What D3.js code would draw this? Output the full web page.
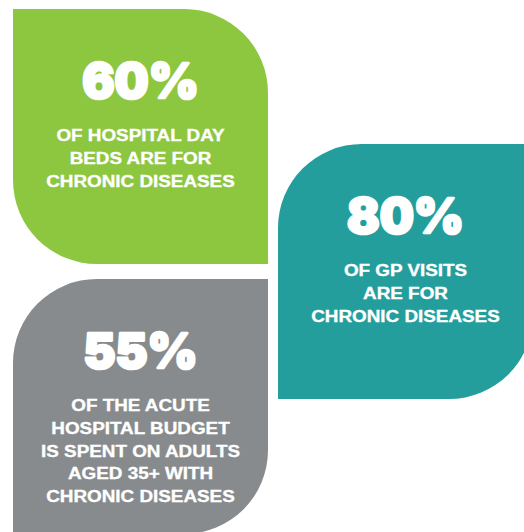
<!DOCTYPE html>
<html lang="en">
<head>
<meta charset="UTF-8">
<title>Chronic diseases infographic</title>
<script src="https://d3js.org/d3.v7.min.js"></script>
<style>
    body { margin: 0; background: #fff; }
    .big { font-family: Inter, "Open Sans", sans-serif; font-weight: 900; }
    .cap { font-family: "Liberation Sans", Arial, sans-serif; font-weight: bold; }
</style>
</head>
<body>
<div id="chart"></div>
<script>
    // panel data
    var stats = ["60%", "80%", "55%"];
    var captions = [
        ["OF HOSPITAL DAY", "BEDS ARE FOR", "CHRONIC DISEASES"],
        ["OF GP VISITS", "ARE FOR", "CHRONIC DISEASES"],
        ["OF THE ACUTE", "HOSPITAL BUDGET", "IS SPENT ON ADULTS", "AGED 35+ WITH", "CHRONIC DISEASES"]
    ];
    var colors = ["#8dc63f", "#239e9c", "#888b8d"];
    var columns = [0, 1, 0];
    var roundCorners = [["tr", "bl"], ["tl", "br"], ["tl", "br"]];

    var width = 524, height = 532;
    var size = 255, radius = 84;

    var svg = d3.select("#chart").append("svg")
        .attr("width", width)
        .attr("height", height);

    // column -> left edge, panel order -> top edge (each panel steps down half a panel)
    var x = d3.scaleLinear().domain([0, 1]).range([13, 278]);
    var y = d3.scaleLinear().domain([0, 2]).range([9, 279]);

    function leaf(x0, y0, s, r, corners) {
        var p = d3.path();
        var x1 = x0 + s, y1 = y0 + s;
        var has = function (c) { return corners.indexOf(c) >= 0; };
        p.moveTo(x0 + (has("tl") ? r : 0), y0);
        if (has("tr")) p.arcTo(x1, y0, x1, y1, r); else p.lineTo(x1, y0);
        if (has("br")) p.arcTo(x1, y1, x0, y1, r); else p.lineTo(x1, y1);
        if (has("bl")) p.arcTo(x0, y1, x0, y0, r); else p.lineTo(x0, y1);
        if (has("tl")) p.arcTo(x0, y0, x1, y0, r); else p.lineTo(x0, y0);
        p.closePath();
        return p.toString();
    }

    var panels = stats.map(function (s, i) {
        return { stat: s, lines: captions[i], color: colors[i], col: columns[i], row: i, corners: roundCorners[i] };
    });

    var g = svg.selectAll("g.panel")
        .data(panels)
        .join("g")
        .attr("class", "panel")
        .attr("transform", function (d) { return "translate(" + x(d.col) + "," + y(d.row) + ")"; });

    g.append("path")
        .attr("d", function (d) { return leaf(0, 0, size, radius, d.corners); })
        .attr("fill", function (d) { return d.color; });

    // big figure, thickened with a white stroke to get the heavy look
    g.append("text")
        .attr("class", "big")
        .attr("x", size / 2)
        .attr("y", 89)
        .attr("text-anchor", "middle")
        .attr("font-size", 48)
        .attr("fill", "#fff")
        .attr("stroke", "#fff")
        .attr("stroke-width", 2.6)
        .attr("stroke-linejoin", "round")
        .text(function (d) { return d.stat; });

    // caption, stretched sideways a little like the original lettering
    g.append("g")
        .attr("transform", "translate(" + (size / 2) + ",0) scale(1.11,1)")
        .append("text")
        .attr("class", "cap")
        .attr("text-anchor", "middle")
        .attr("font-size", 17)
        .attr("fill", "#fff")
        .attr("stroke", "#fff")
        .attr("stroke-width", 0.35)
        .selectAll("tspan")
        .data(function (d) { return d.lines; })
        .join("tspan")
        .attr("x", 0)
        .attr("y", function (d, i) { return 132 + i * 22.8; })
        .text(function (d) { return d; });
</script>
</body>
</html>
